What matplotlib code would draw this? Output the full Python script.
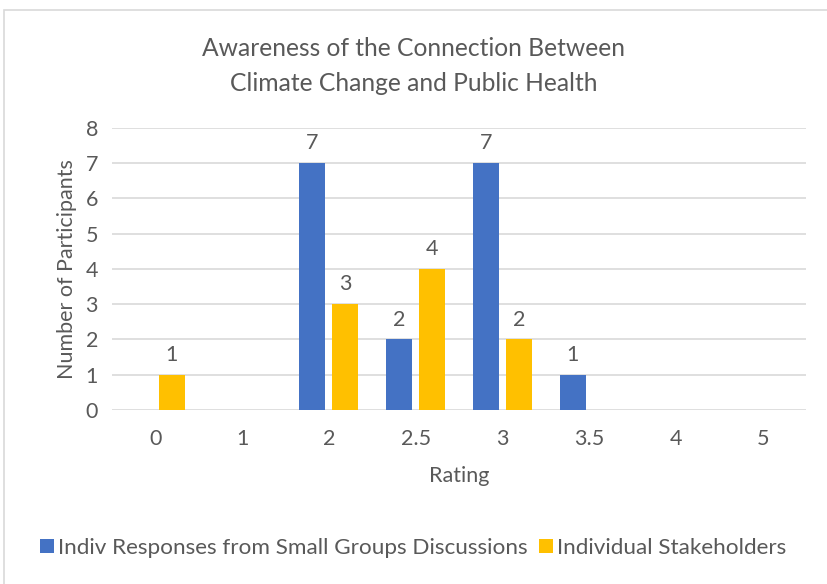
import matplotlib.pyplot as plt
import numpy as np
from matplotlib.patches import Rectangle

# Data
ratings = ['0', '1', '2', '2.5', '3', '3.5', '4', '5']
small_groups = [0, 0, 7, 2, 7, 1, 0, 0]
stakeholders = [1, 0, 3, 4, 2, 0, 0, 0]
series_names = ['Indiv Responses from Small Groups Discussions', 'Individual Stakeholders']

plt.rcParams['font.family'] = ['Lato', 'DejaVu Sans']
text_col = '#595959'
fs = 15.5

fig = plt.figure(figsize=(8.27, 5.84), dpi=100)
ax = fig.add_axes([0.1354, 0.298, 0.8392, 0.483])

# outer chart border like Excel
fig.patches.append(Rectangle((0.005, -0.01), 1.2, 0.993, transform=fig.transFigure,
                             fill=False, edgecolor='#d9d9d9', linewidth=1.2))

x = np.arange(len(ratings))
w = 0.30
b1 = ax.bar(x - 0.19, small_groups, w, color='#4472c4', label=series_names[0], zorder=3)
b2 = ax.bar(x + 0.19, stakeholders, w, color='#ffc000', label=series_names[1], zorder=3)

# Data labels (only non-zero)
for bars, vals in [(b1, small_groups), (b2, stakeholders)]:
    for bar, v in zip(bars, vals):
        if v:
            ax.annotate(str(v), (bar.get_x() + bar.get_width() / 2, v),
                        xytext=(0, 7), textcoords='offset points', ha='center',
                        va='bottom', fontsize=fs, color=text_col)

ax.set_xlim(-0.5, len(ratings) - 0.5)
ax.set_ylim(0, 8)
ax.set_yticks(range(0, 9))
ax.set_xticks(x)
ax.set_xticklabels(ratings)
ax.tick_params(length=0, labelsize=fs, labelcolor=text_col)
ax.tick_params(axis='x', pad=14)
ax.tick_params(axis='y', pad=10)
ax.grid(axis='y', color='#d9d9d9', linewidth=1.2, zorder=0)
for s in ax.spines.values():
    s.set_visible(False)

ax.set_xlabel('Rating', fontsize=fs, color=text_col, labelpad=12)
ax.set_ylabel('Number of Participants', fontsize=fs, color=text_col, labelpad=6)
fig.text(0.5, 0.887, 'Awareness of the Connection Between\nClimate Change and Public Health',
         ha='center', va='center', fontsize=17.7, color=text_col, linespacing=1.65)

fig.legend(loc='center', bbox_to_anchor=(0.5, 0.062), ncol=2, frameon=False,
           fontsize=16.2, labelcolor=text_col, handlelength=0.6, handleheight=0.6,
           handletextpad=0.2, columnspacing=0.5)

fig.savefig('out.png', dpi=100)
